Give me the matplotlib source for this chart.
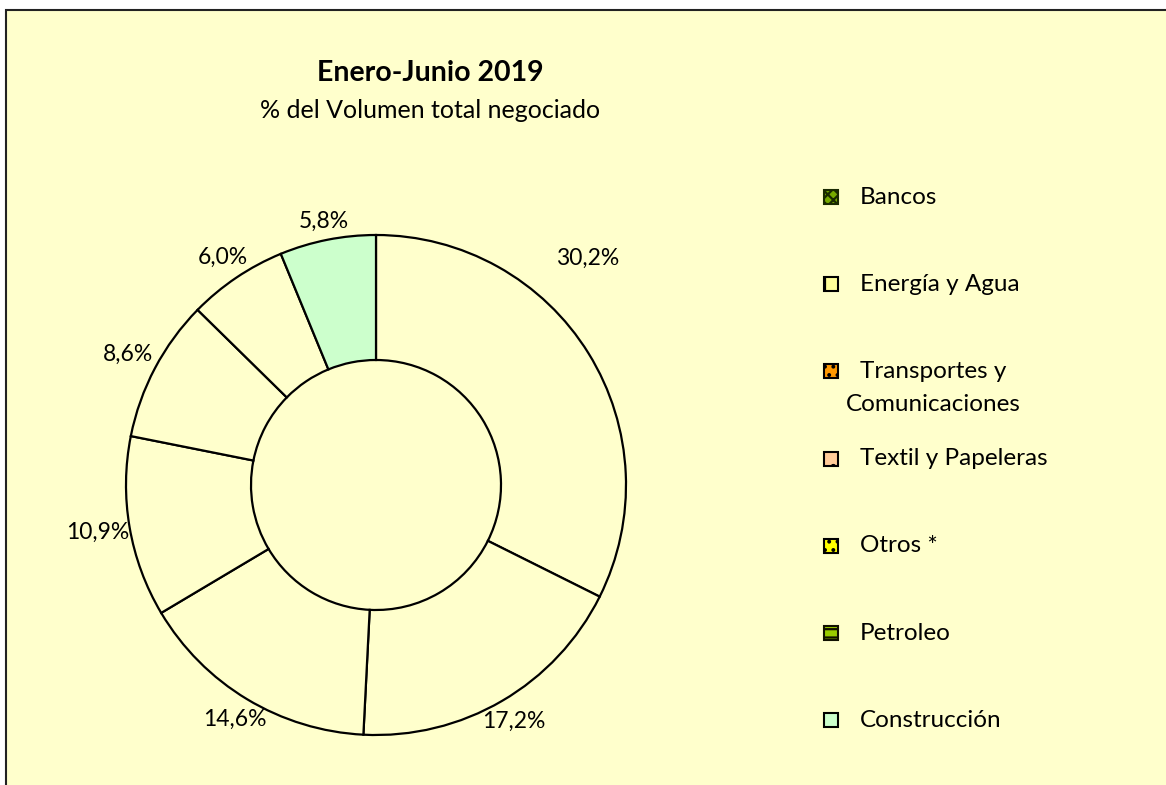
import numpy as np
import matplotlib
matplotlib.use("Agg")
import matplotlib.pyplot as plt
from matplotlib.patches import Rectangle

plt.rcParams['font.family'] = ['Lato', 'DejaVu Sans']
plt.rcParams['hatch.linewidth'] = 1.6

# datos
sectores = ["Bancos", "Energía y Agua", "Transportes y\nComunicaciones",
            "Textil y Papeleras", "Otros *", "Petroleo", "Construcción"]
porcentajes = [30.2, 17.2, 14.6, 10.9, 8.6, 6.0, 5.8]
etiquetas = ["30,2%", "17,2%", "14,6%", "10,9%", "8,6%", "6,0%", "5,8%"]

titulo = "Enero-Junio 2019"
subtitulo = "% del Volumen total negociado"

W, H = 1166, 785
fig = plt.figure(figsize=(W / 100, H / 100), dpi=100, facecolor="white")

# marco del grafico (detras de todo)
fig.patches.append(Rectangle((6 / W, -0.05), 1.1, 1 - 10 / H + 0.05,
                             transform=fig.transFigure, facecolor="#FFFFCC",
                             edgecolor="#222222", linewidth=1.5, zorder=-10))

# anillo
cx, cy, r = 376, 485, 250
ax = fig.add_axes([(cx - r) / W, (H - cy - r) / H, 2 * r / W, 2 * r / H])
ax.patch.set_visible(False)

colores_anillo = ["#FFFFCC"] * 6 + ["#CCFFCC"]
wedges, _ = ax.pie(porcentajes, radius=1, startangle=90, counterclock=False,
                   colors=colores_anillo,
                   wedgeprops=dict(width=0.5, edgecolor="black", linewidth=1.6))
# pie() fija limites de +-1.25, se reajustan al radio
ax.set_xlim(-1, 1)
ax.set_ylim(-1, 1)
ax.axis("off")

for i, (w, lab) in enumerate(zip(wedges, etiquetas)):
    ang = np.deg2rad((w.theta1 + w.theta2) / 2)
    # las etiquetas a los lados van algo mas lejos (texto mas ancho que alto)
    dist = 1.06 + 0.07 * abs(np.cos(ang))
    if i == 0:
        # Excel coloca esta etiqueta mas arriba
        ang = np.deg2rad(47)
        dist = 1.24
    ax.text(dist * np.cos(ang), dist * np.sin(ang), lab, ha="center",
            va="center", fontsize=16.5, clip_on=False)

# titulos
fig.text(430 / W, 1 - 73 / H, titulo, ha="center", va="center",
         fontsize=20.5, fontweight="bold")
fig.text(430 / W, 1 - 110 / H, subtitulo, ha="center", va="center",
         fontsize=18)

# leyenda manual con tramas
estilos = [
    dict(facecolor="#77AA00", hatch="xxx", edgecolor="#1a2a00"),
    dict(facecolor="#FFFF99", hatch="|", edgecolor="black"),
    dict(facecolor="#FF9900", hatch="..", edgecolor="black"),
    dict(facecolor="#FFCC99", hatch=".", edgecolor="black"),
    dict(facecolor="#FFFF00", hatch="..", edgecolor="black"),
    dict(facecolor="#99CC00", hatch="--", edgecolor="#111100"),
    dict(facecolor="#CCFFCC", hatch="", edgecolor="black"),
]
y0, paso = 197, 87.2
mx, tx, s = 824, 860, 14
linea = 33
renderer = fig.canvas.get_renderer()
for k, (nombre, est) in enumerate(zip(sectores, estilos)):
    y = y0 + k * paso
    fig.patches.append(Rectangle((mx / W, 1 - (y + s / 2) / H), s / W, s / H,
                                 transform=fig.transFigure, linewidth=1.5,
                                 zorder=3, **est))
    lineas = nombre.split("\n")
    t = fig.text(tx / W, 1 - y / H, lineas[0], ha="left", va="center",
                 fontsize=17.5)
    bb = t.get_window_extent(renderer)
    xc = (bb.x0 + bb.x1) / 2 / W
    for j, extra in enumerate(lineas[1:], start=1):
        fig.text(xc, 1 - (y + j * linea) / H, extra, ha="center",
                 va="center", fontsize=17.5)

fig.savefig("out.png", dpi=100, facecolor="white")
